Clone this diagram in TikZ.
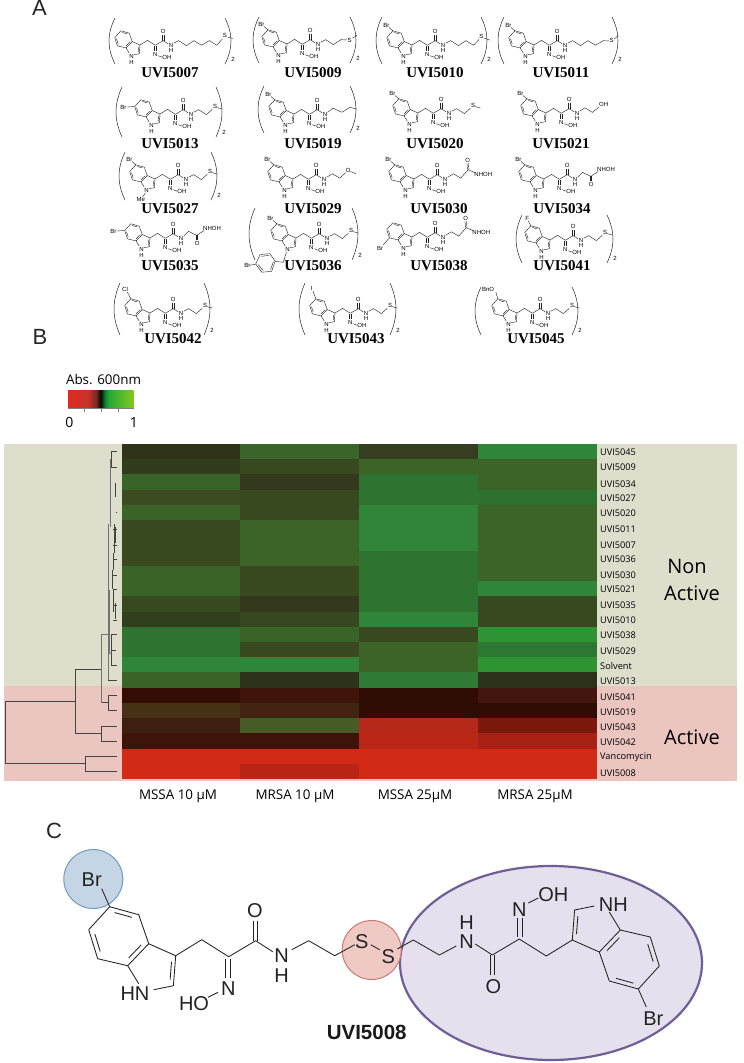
\documentclass[tikz,border=0pt]{standalone}
\usepackage{fontspec}
\setmainfont{Liberation Sans}
\newfontfamily\nmfont{Liberation Serif}
\newfontfamily\myr{Open Sans}
\usetikzlibrary{calc}
\definecolor{bgG}{HTML}{DDDFCC}
\definecolor{bgR}{HTML}{EBC5C0}
\definecolor{dend}{HTML}{45453F}
\definecolor{ink}{HTML}{222222}
\definecolor{sa}{HTML}{E22B1F}\definecolor{sb}{HTML}{C8332A}\definecolor{sc}{HTML}{7A2A22}
\definecolor{sd}{HTML}{050505}\definecolor{se}{HTML}{0D8030}\definecolor{sf}{HTML}{25A838}\definecolor{sg}{HTML}{85C81A}
\pgfdeclarehorizontalshading{absbar}{100bp}{color(0bp)=(sa);color(25bp)=(sa);color(40bp)=(sb);color(46.5bp)=(sc);color(50bp)=(sd);color(53bp)=(se);color(56bp)=(sf);color(75bp)=(sg);color(100bp)=(sg)}
\tikzset{
  bond/.style={line width=.42pt,draw=ink,line join=round},
  lab/.style={font=\fontsize{6}{6}\selectfont,inner sep=0pt,text=black},
  nm/.style={font=\nmfont\bfseries\fontsize{15}{15}\selectfont,inner sep=0pt,text=black},
  rowlab/.style={font=\myr\fontsize{9.2}{10}\selectfont,inner sep=0pt,anchor=west,text=black},
  grp/.style={font=\myr\fontsize{20}{22}\selectfont,inner sep=0pt,text=black},
  axl/.style={font=\myr\fontsize{13.4}{14}\selectfont,inner sep=0pt,text=black},
  pan/.style={font=\fontsize{22}{24}\selectfont,inner sep=0pt,text=black!85},
  dn/.style={draw=dend,line width=.75pt},
  dnl/.style={draw=dend!75,line width=1pt},
  brk/.style={draw=ink,line width=.5pt},
  blab/.style={font=\fontsize{20}{22}\selectfont,inner sep=0pt,text=ink},
}
\newcommand\dbl[3]{\draw[bond] ($(#1)!.14!(#2)!.17!(#3)$) -- ($(#2)!.14!(#1)!.17!(#3)$);}
\newcommand\core{%
  \coordinate (C3) at (0,0);\coordinate (C2) at (-2.3,30);\coordinate (C7a) at (-48,10);
  \coordinate (C3a) at (-27,-12);\coordinate (C4) at (-37,-41);\coordinate (C5) at (-66,-49);
  \coordinate (C6) at (-87,-26);\coordinate (C7) at (-78,3);\coordinate (Rb) at (-57,-20);\coordinate (Rp) at (-23,14);
  \draw[bond] (-22,34)--(C2)--(C3)--(C3a)--(C4)--(C5)--(C6)--(C7)--(C7a)--(C3a);
  \draw[bond] (C7a)--(-37,28);
  \dbl{C2}{C3}{Rp}\dbl{C4}{C5}{Rb}\dbl{C6}{C7}{Rb}\dbl{C3a}{C7a}{Rb}
  \draw[bond] (C3)--(26,-16)--(53,1)--(80,-15)--(97,-4);
  \draw[bond] (49.5,3)--(49.5,22) (54.5,3)--(54.5,22);
  \draw[bond] (77.7,-15)--(77.7,-35) (82,-15)--(82,-35);
}
\newcommand\stdl{%
  \node[lab] at (80,-46) {O};\node[lab] at (107,1) {N};\node[lab] at (107,18) {H};
  \node[lab] at (53,33) {N};\node[lab] at (93,44) {OH};\draw[bond] (63,37)--(76,42);
}
\newcommand\NH{\node[lab] at (-29,41) {N};\node[lab] at (-29,59) {H};}
\newcommand\NN{\node[lab] at (-29,41) {N};}
\newcommand\BrV{\draw[bond] (C5)--(-79,-60);\node[lab] at (-88,-67) {Br};}
\newcommand\BrVI{\draw[bond] (C6)--(-115,-24);\node[lab] at (-126,-23) {Br};}
\newcommand\BrVII{\draw[bond] (C7)--(-100,28);\node[lab] at (-110,38) {Br};}
\newcommand\tSii{\draw[bond] (116,-6)--(133,-15)--(160,2)--(180,-16);\node[lab] at (190,-27) {S};\draw[bond] (197,-22)--(215,-17);}
\newcommand\tSiii{\draw[bond] (116,-6)--(133,-15)--(160,2)--(186,-15)--(206,-14);\node[lab] at (216,-13) {S};\draw[bond] (226,-20)--(241,-30);}
\newcommand\tSiv{\draw[bond] (116,-6)--(133,-15)--(160,2)--(186,-15)--(212,1)--(231,-19);\node[lab] at (239,-29) {S};\draw[bond] (248,-24)--(268,-17);}
\newcommand\tSv{\draw[bond] (116,-6)--(133,-15)--(160,2)--(186,-15)--(212,1)--(239,-15)--(258,-14);\node[lab] at (268,-15) {S};\draw[bond] (277,-21)--(291,-32);}
\newcommand\tSvi{\draw[bond] (116,-6)--(133,-15)--(160,2)--(186,-15)--(212,1)--(239,-15)--(265,1)--(284,-21);\node[lab] at (293,-32) {S};\draw[bond] (302,-27)--(320,-23);}
\newcommand\tAcidUp{\draw[bond] (116,-6)--(136,-18)--(161,-3)--(187,-32)--(210,-22);\draw[bond] (184.5,-32)--(182.5,-54) (189.5,-32)--(187.5,-54);\node[lab] at (185,-63) {O};\node[lab] at (239,-17) {NHOH};}
\newcommand\tAcidDown{\draw[bond] (116,-6)--(133,-23)--(161,-9)--(187,-26);\draw[bond] (158.5,-9)--(158.5,8) (163.5,-9)--(163.5,8);\node[lab] at (163,18) {O};\node[lab] at (214,-32) {NHOH};}
\newcommand\smol[3]{\begin{scope}[shift={(#1,#2)},scale=.29]\core\stdl #3\end{scope}}
\newcommand\brkt[5]{% xl xr ytop ybot, name
  \draw[brk] (#1+6,#3) .. controls (#1-2,#3+.35*#4-.35*#3) and (#1-2,#4-.35*#4+.35*#3) .. (#1+6,#4);
  \draw[brk] (#2-6,#3) .. controls (#2+2,#3+.35*#4-.35*#3) and (#2+2,#4-.35*#4+.35*#3) .. (#2-6,#4);
  \node[lab] (#5) at (#2+2,#4-5) {2};
}
\begin{document}
\begin{tikzpicture}[x=1pt,y=-1pt]
\useasboundingbox (0,0) rectangle (744,1063);
\fill[white] (0,0) rectangle (744,1063);
% panel letters
\node[pan] (pA) at (39.5,8) {A};
\node[pan] (pB) at (40,337) {B};
\node[pan] (pC) at (54,831) {C};
% ---- panel A row 1
\smol{140}{45}{\NH\tSvi}
\brkt{109}{231}{18}{64}{b7}
\node[nm] (n5007) at (170,73) {UVI5007};
\smol{287}{44}{\NH\BrV\tSiii}
\brkt{253}{356}{17}{63}{b9}
\node[nm] (n5009) at (313,73) {UVI5009};
\smol{412}{45}{\NH\BrV\tSiv}
\brkt{376}{487}{17}{64}{b10}
\node[nm] (n5010) at (435,73) {UVI5010};
\smol{534}{45}{\NH\BrV\tSv}
\brkt{498}{618}{17}{64}{b11}
\node[nm] (n5011) at (561,73) {UVI5011};
% row 2
\smol{160}{114}{\NH\BrVI\tSii}
\brkt{116}{222}{87}{137}{b13}
\node[nm] (n5013) at (170,144) {UVI5013};
\smol{294}{114}{\NH\BrV\draw[bond] (116,-6)--(135,-20)--(165,-6)--(193,-23)--(216,-17);}
\brkt{258}{356}{86}{133}{b19}
\node[nm] (n5019) at (313,144) {UVI5019};
\smol{418}{113}{\NH\BrV\tSii}
\node[nm] (n5020) at (435,144) {UVI5020};
\smol{546}{113}{\NH\BrV\draw[bond] (116,-6)--(134,-18)--(160,-2)--(182,-20);\node[lab] at (199,-29) {OH};}
\node[nm] (n5021) at (561,144) {UVI5021};
% row 3
\smol{155}{179}{\NN\BrV\draw[bond] (-33,48)--(-43,62);\node[lab] at (-49,72) {Me};\tSii}
\brkt{119}{217}{152}{200}{b27}
\node[nm] (n5027) at (170,209) {UVI5027};
\smol{293}{179}{\NH\BrV\draw[bond] (116,-6)--(136,-18)--(161,-3)--(182,-22);\node[lab] at (190,-30) {O};\draw[bond] (198,-26)--(218,-18);}
\node[nm] (n5029) at (313,209) {UVI5029};
\smol{414}{179}{\NH\BrV\tAcidUp}
\node[nm] (n5030) at (439,209) {UVI5030};
\smol{544}{179}{\NH\BrV\tAcidDown}
\node[nm] (n5034) at (562,209) {UVI5034};
% row 4
\smol{150}{238}{\NH\BrVI\tAcidDown}
\node[nm] (n5035) at (170,266) {UVI5035};
\smol{296}{238}{\NN\BrV\tSii
  \draw[bond] (-33,49)--(-44,84)--(-72,80)--(-90,54)--(-124,57)--(-139,90)--(-118,118)--(-84,115)--(-72,80);
  \draw[bond] (-93,60)--(-120,63) (-130,92)--(-114,112) (-88,109)--(-78,82);
  \draw[bond] (-139,90)--(-158,94);\node[lab] at (-168,95) {Br};}
\brkt{249}{358}{208}{260}{b36}
\node[nm] (n5036) at (313,266) {UVI5036};
\smol{412}{237}{\NH\BrVII\tAcidUp}
\node[nm] (n5038) at (439,266) {UVI5038};
\smol{550}{240}{\NH\draw[bond] (C5)--(-75,-66);\node[lab] at (-79,-76) {F};\tSii}
\brkt{516}{613}{215}{263}{b41}
\node[nm] (n5041) at (562,266) {UVI5041};
% row 5
\smol{150}{313}{\NH\draw[bond] (C5)--(-78,-72);\node[lab] at (-86,-83) {Cl};\tSii}
\brkt{114}{210}{283}{335}{b42}
\node[nm] (n5042) at (173,339) {UVI5042};
\smol{335}{313}{\NH\draw[bond] (C5)--(-76,-76);\node[lab] at (-80,-86) {I};\tSii}
\brkt{299}{396}{283}{335}{b43}
\node[nm] (n5043) at (356,339) {UVI5043};
\smol{517}{313}{\NH\draw[bond] (C5)--(-73,-72);\node[lab] at (-100,-83) {BnO};\tSii}
\brkt{475}{578}{287}{335}{b45}
\node[nm] (n5045) at (536,339) {UVI5045};
% ---- panel B colour bar
\node[font=\myr\fontsize{13.4}{14}\selectfont,inner sep=0pt,text=black] (absl) at (103.5,379.5) {Abs. 600nm};
\shade[shading=absbar] (68,390) rectangle (133.5,408);
\draw[draw=black!50,line width=.4pt] (68,408)--(133.5,408) (84.3,408)--(84.3,412) (101,408)--(101,412) (117.7,408)--(117.7,412);
\node[font=\myr\fontsize{14}{15}\selectfont,inner sep=0pt,text=black] (v0) at (69.5,422) {0};
\node[font=\myr\fontsize{14}{15}\selectfont,inner sep=0pt,text=black] (v1) at (134,422) {1};
% backgrounds
\fill[bgG] (3.5,444) rectangle (737,686);
\fill[bgR] (3.5,686) rectangle (737,781);
% heat map
\foreach \i/\a/\b/\c/\d in {
0/2F3419/3B6528/353F20/2F8538,
1/303C1C/39491F/3B6426/3B6426,
2/3A6427/34391E/2E7430/3B6426,
3/3A4C20/39491F/2E7430/2E7030,
4/3A6427/39491F/308538/3B6426,
5/394A20/3B6426/308538/3B6426,
6/394A20/3B6426/308538/3B6426,
7/394A20/3B6426/2E7430/3B6426,
8/3A6427/3A4A20/2E7430/3B6426,
9/3A6427/3A4A20/2E7430/2F8538,
10/37491F/34391E/2E7430/37491F,
11/323F1F/35481F/2F8538/37491F,
12/2E7430/3A6427/37491F/2F9233,
13/2E7430/394A20/3B6426/2E7733,
14/2F8538/2F8538/3B6426/2F9233,
15/3A6427/2C331A/2F7B35/2A321A,
16/330D03/3F150B/300D04/44160F,
17/473215/412412/300D04/300D04,
18/3C1F10/465C24/B5281A/7C190D,
19/3E130A/3E130A/BA2716/A82114,
20/D22A14/D22A14/D22A14/D22A14,
21/D22A14/B92515/D22A14/D22A14}{
  \pgfmathsetmacro\yt{444+15.23*\i}\pgfmathsetmacro\yb{444+15.23*(\i+1)+.2}
  \definecolor{ca}{HTML}{\a}\definecolor{cb}{HTML}{\b}\definecolor{cc}{HTML}{\c}\definecolor{cd}{HTML}{\d}
  \fill[ca] (121.5,\yt) rectangle (240,\yb);
  \fill[cb] (240,\yt) rectangle (359,\yb);
  \fill[cc] (359,\yt) rectangle (478,\yb);
  \fill[cd] (478,\yt) rectangle (596.5,\yb);
}
% row labels
\foreach \nmz/\y/\t in {r45/452.3/UVI5045,r09/467.3/UVI5009,r34/484/UVI5034,r27/498.3/UVI5027,r20/513.7/UVI5020,r11/529.3/UVI5011,r07/545/UVI5007,r36/559.3/UVI5036,r30/575/UVI5030,r21/589.3/UVI5021,r35/605.7/UVI5035,r10/620.3/UVI5010,r38/635.7/UVI5038,r29/651/UVI5029,rs/666/Solvent,r13/681/UVI5013,r41/697.3/UVI5041,r19/712.3/UVI5019,r43/727.3/UVI5043,r42/742/UVI5042,rv/757.7/Vancomycin,r08/773.3/UVI5008}{
  \node[rowlab] (\nmz) at (600,\y) {\t};
}
\node[grp] (gN) at (687,566.7) {Non};
\node[grp] (gA) at (692,593) {Active};
\node[grp] (gB) at (692,737) {Active};
\node[axl] (x1) at (178,796) {MSSA 10 µM};
\node[axl] (x2) at (295,796) {MRSA 10 µM};
\node[axl] (x3) at (415,796) {MSSA 25µM};
\node[axl] (x4) at (535,796) {MRSA 25µM};
% dendrogram
\draw[dn] (117,756)--(85.7,756)--(85.7,771.3)--(117,771.3);
\draw[dn] (85.7,763.3)--(5.3,763.3)--(5.3,701.7)--(75,701.7);
\draw[dn] (117,726)--(101.5,726)--(101.5,741.3)--(117,741.3);
\draw[dn] (101.5,733.7)--(75,733.7)--(75,669)--(101,669);
\draw[dn] (117,695.7)--(108.5,695.7)--(108.5,710.7)--(117,710.7);
\draw[dn] (108.5,702.7)--(101,702.7);
\draw[dnl] (101,702.7)--(101,634.3)--(108,634.3);
\draw[dnl] (108,524)--(108,680);
\draw[dn] (108,680)--(117,680);
\draw[dn] (117,634.3)--(111.5,634.3)--(111.5,665.7)--(117,665.7) (111.5,650)--(116,650);
\draw[dnl] (109.5,590)--(109.5,653)--(111.5,653);
\draw[dn] (117,451.7)--(111.7,451.7)--(111.7,467.3)--(117,467.3) (111.7,459.3)--(110,459.3);
\draw[dnl] (110,459.3)--(110,527);
\draw[dn] (115.7,482.7)--(115.7,496.7) (115.5,512)--(117,512);
\draw[dn] (114,524)--(114,553) (115.7,527)--(115.7,543) (113.3,553)--(113.3,570) (112.7,570)--(112.7,589) (113.3,589)--(113.3,612) (115,603)--(115,619);
\draw[dn] (113,529)--(117,529) (113,545)--(117,545) (113,559)--(117,559) (113,575)--(117,575) (113,589)--(117,589) (113,605)--(117,605) (113,620)--(117,620);
% ---- panel C
\begin{scope}[bond/.style={line width=.85pt,draw=ink,line join=round}]
\definecolor{elF}{HTML}{E6E0EE}\definecolor{elD}{HTML}{6F5F96}
\definecolor{blF}{HTML}{C5D5E5}\definecolor{blD}{HTML}{6F9CC2}
\definecolor{reF}{HTML}{EFC9C3}\definecolor{reD}{HTML}{C87B74}
\draw[fill=elF,draw=elD,line width=2.2pt] (551,963) ellipse [x radius=151pt,y radius=97pt];
\draw[fill=blF,draw=blD,line width=1pt] (93.3,879) circle [radius=29.5pt];
\draw[fill=reF,draw=reD,line width=1pt] (371.7,950) circle [radius=29.5pt];
\begin{scope}[shift={(175.7,955.7)}]
\core
\draw[bond] (C5)--(-74,-67);
\draw[bond] (116,-6)--(133,-15)--(159,0)--(179,-11);
\end{scope}
\begin{scope}[shift={(572.3,940)},rotate=180]
\core
\draw[bond] (C5)--(-74,-67);
\draw[bond] (116,-6)--(133,-15)--(159,0)--(175,-9);
\end{scope}
\node[blab] (bBr) at (91.7,880) {Br};
\node[blab] (bHN) at (135,994) {HN};
\node[blab] (bHO) at (194,1003.3) {HO};
\node[blab] (bNox) at (228.3,988.3) {N};
\node[blab] (bO) at (255,911) {O};
\node[blab] (bNa) at (281.7,956) {N};
\node[blab] (bHa) at (281.7,975.5) {H};
\node[blab] (bS1) at (361.7,941.7) {S};
\node[blab] (bS2) at (388.3,956.7) {S};
\node[blab] (cNH) at (613.3,905) {NH};
\node[blab] (cOH) at (553.3,895) {OH};
\node[blab] (cNox) at (519.3,910) {N};
\node[blab] (cNa) at (466.7,942) {N};
\node[blab] (cHa) at (466.7,922.5) {H};
\node[blab] (cO) at (493.3,986.7) {O};
\node[blab] (cBr) at (653.3,1019) {Br};
\draw[bond] (bHO) ++(14,-6) -- ++(10,-5);
\draw[bond] (cNox) ++(9,-7) -- ++(10,-5);
\draw[bond] (bS1) ++(9,3) -- ++(9,5);
\node[font=\bfseries\fontsize{20.5}{22}\selectfont,inner sep=0pt,text=black!90] (nm08) at (366.7,1032.5) {UVI5008};
\end{scope}
\end{tikzpicture}
\end{document}
